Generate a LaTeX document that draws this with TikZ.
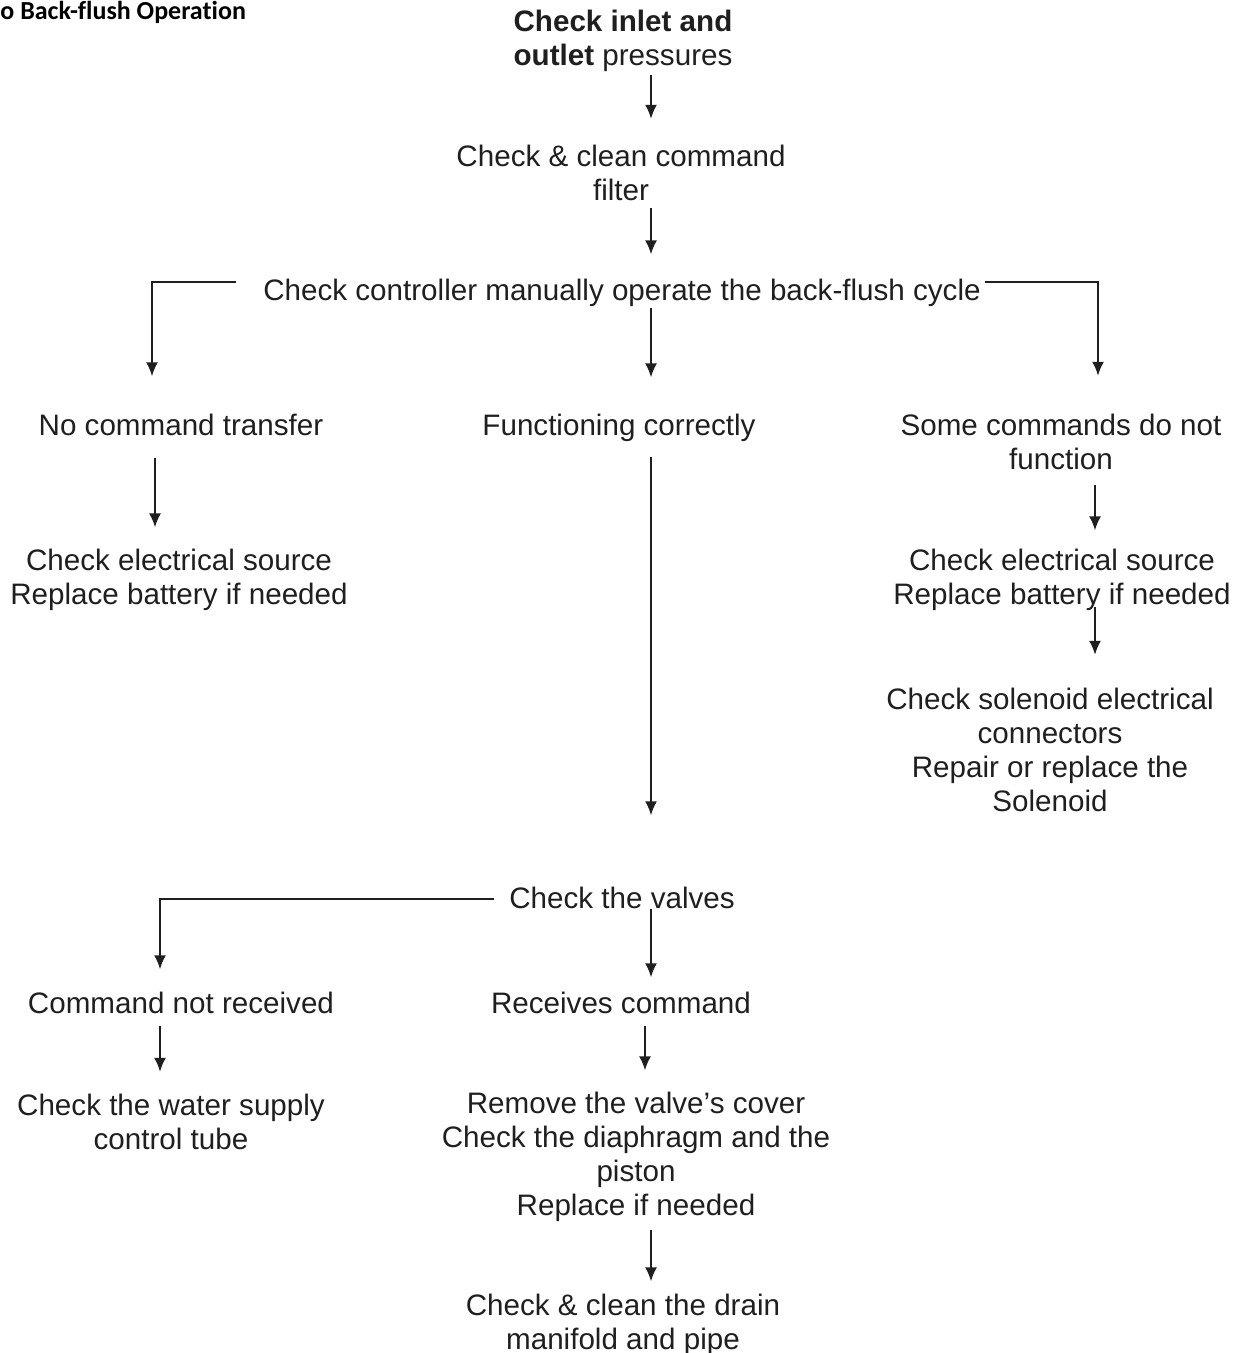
\documentclass[tikz,border=0pt]{standalone}
\usepackage{fontspec}
\setmainfont{Liberation Sans}
\newfontfamily\titlefont[Ligatures=NoCommon]{Carlito}
\usetikzlibrary{arrows.meta}
\tikzset{%
    txt/.style={inner sep=0pt, align=center, text=black!88,
        font=\fontsize{14.8}{17}\selectfont},
    arr/.style={draw=black!88, line width=1pt,
        -{Latex[length=7pt,width=6pt]}},
}

\begin{document}
\begin{tikzpicture}[x=0.5pt,y=-0.5pt]
    \useasboundingbox (0,0) rectangle (1243,1353);
    % columns of the arrows
    \coordinate (cm) at (651,0);
    \coordinate (cl) at (152,0);
    \coordinate (cr) at (1098,0);
    \coordinate (cl2) at (155,0);
    \coordinate (cr2) at (1095,0);
    \coordinate (cv) at (160,0);
    \coordinate (cc) at (645,0);
    \node[anchor=base west, inner sep=0pt, font=\titlefont\bfseries\fontsize{13}{15}\selectfont] (title) at (0,20) {o Back-flush Operation};
    \node[txt] (top) at (623,41) {\textbf{Check inlet and}\\\textbf{outlet} pressures};
    \node[txt] (filter) at (621,172.5) {Check \& clean command\\filter};
    \node[txt] (ctrl) at (622,293) {Check controller manually operate the back-flush cycle};
    \node[txt] (nocmd) at (181,425) {No command transfer};
    \node[txt] (func) at (619,428) {Functioning correctly};
    \node[txt] (some) at (1061,441.5) {Some commands do not\\function};
    \node[txt] (elecL) at (179,580) {Check electrical source\\Replace battery if needed};
    \node[txt] (elecR) at (1062,580) {Check electrical source\\Replace battery if needed};
    \node[txt] (sol) at (1050,749.5) {Check solenoid electrical\\connectors\\Repair or replace the\\Solenoid};
    \node[txt] (valves) at (622,898) {Check the valves};
    \node[txt] (notrec) at (181,1003) {Command not received};
    \node[txt] (recv) at (621,1003) {Receives command};
    \node[txt] (water) at (171,1121.5) {Check the water supply\\control tube};
    \node[txt] (cover) at (636,1157) {Remove the valve’s cover\\Check the diaphragm and the\\piston\\Replace if needed};
    \node[txt] (drain) at (623,1325) {Check \& clean the drain\\manifold and pipe};
    % top part
    \draw[arr, shorten <=1.5pt, shorten >=12.7pt] (top.south -| cm) -- (filter.north -| cm);
    \draw[arr, shorten <=3.7pt, shorten >=12.2pt] (filter.south -| cm) -- (ctrl.north -| cm);
    \draw[arr, shorten >=18.7pt] (ctrl.west) ++(-27,-11) -| (nocmd.north -| cl);
    \draw[arr, shorten <=0.6pt, shorten >=18.2pt] (ctrl.south -| cm) -- (func.north -| cm);
    \draw[arr, shorten >=18.7pt] (ctrl.east) ++(4,-11) -| (some.north -| cr);
    \draw[arr, shorten <=10.7pt, shorten >=10.7pt] (nocmd.south -| cl2) -- (elecL.north -| cl2);
    \draw[arr, shorten <=7.6pt, shorten >=35.7pt] (func.south -| cm) -- (valves.north -| cm);
    \draw[arr, shorten <=7.7pt, shorten >=9.2pt] (some.south -| cr2) -- (elecR.north -| cr2);
    \draw[arr, shorten <=-1.9pt, shorten >=16.2pt] (elecR.south -| cr2) -- (sol.north -| cr2);
    % valves part
    \draw[arr, shorten >=11.2pt] (valves.west) ++(-15,1) -| (notrec.north -| cv);
    \draw[arr, shorten >=7.2pt] (valves.south -| cm) -- (recv.north -| cm);
    \draw[arr, shorten <=5.7pt, shorten >=10.7pt] (notrec.south -| cv) -- (water.north -| cv);
    \draw[arr, shorten <=5.7pt, shorten >=10.7pt] (recv.south -| cc) -- (cover.north -| cc);
    \draw[arr, shorten <=4.1pt, shorten >=6.2pt] (cover.south -| cm) -- (drain.north -| cm);
\end{tikzpicture}
\end{document}
